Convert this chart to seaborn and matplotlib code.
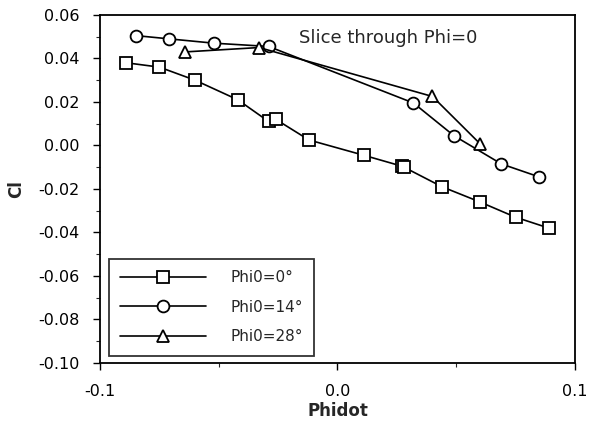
import matplotlib
matplotlib.use("Agg")
import matplotlib.pyplot as plt
import seaborn as sns
import pandas as pd
from matplotlib.ticker import MultipleLocator

sns.set_style("ticks")
plt.rcParams['font.family'] = ['DejaVu Sans']

# Data
phidot_0 = [-0.089, -0.075, -0.060, -0.042, -0.029, -0.026, -0.012, 0.011, 0.027, 0.028, 0.044, 0.060, 0.075, 0.089]
cl_0 = [0.038, 0.036, 0.030, 0.021, 0.011, 0.012, 0.0025, -0.0045, -0.0095, -0.010, -0.019, -0.026, -0.033, -0.038]

phidot_14 = [-0.085, -0.071, -0.052, -0.029, 0.032, 0.049, 0.069, 0.085]
cl_14 = [0.0505, 0.049, 0.047, 0.0455, 0.0195, 0.0045, -0.0085, -0.0145]

phidot_28 = [-0.064, -0.033, 0.040, 0.060]
cl_28 = [0.043, 0.045, 0.0225, 0.0008]

labels = ["Phi0=0°", "Phi0=14°", "Phi0=28°"]
annotation = "Slice through Phi=0"
xticks = [-0.1, 0.0, 0.1]
yticks = [-0.10, -0.08, -0.06, -0.04, -0.02, 0.00, 0.02, 0.04, 0.06]

fig = plt.figure(figsize=(5.9, 4.26), dpi=100)
ax = fig.add_axes([0.1695, 0.148, 0.805, 0.817])

series = [
    (phidot_0, cl_0, "s", 8.5, labels[0]),
    (phidot_14, cl_14, "o", 8.5, labels[1]),
    (phidot_28, cl_28, "^", 8, labels[2]),
]
for xs, ys, mk, ms, lab in series:
    df = pd.DataFrame({"Phidot": xs, "Cl": ys})
    sns.lineplot(data=df, x="Phidot", y="Cl", sort=False, ax=ax, color="black",
                 linewidth=1.2, marker=mk, markersize=ms, markerfacecolor="white",
                 markeredgecolor="black", markeredgewidth=1.3, label=lab)

ax.set_xlim(-0.1, 0.1)
ax.set_ylim(-0.10, 0.06)
ax.set_xticks(xticks)
ax.set_xticklabels(["-0.1", "0.0", "0.1"])
ax.set_yticks(yticks)
ax.set_yticklabels([f"{v:.2f}" for v in yticks])
ax.xaxis.set_minor_locator(MultipleLocator(0.05))
ax.yaxis.set_minor_locator(MultipleLocator(0.01))
ax.tick_params(axis="both", which="major", labelsize=11.5, length=5, width=1, color="black", labelcolor="black")
ax.tick_params(axis="x", which="major", pad=10)
ax.tick_params(axis="y", which="major", pad=10)
ax.tick_params(axis="both", which="minor", length=3, width=0.8)
for sp in ax.spines.values():
    sp.set_visible(True)
    sp.set_color("black")
    sp.set_linewidth(1.3)

ax.set_xlabel("Phidot", fontsize=12, fontweight="bold", labelpad=2)
ax.set_ylabel("Cl", fontsize=12, fontweight="bold", labelpad=9)

ax.text(-0.016, 0.0495, annotation, fontsize=13, va="center", ha="left")

leg = ax.legend(loc="lower left", bbox_to_anchor=(0.012, 0.012), handlelength=5.6,
                fontsize=11, frameon=True, fancybox=False, edgecolor="black",
                borderpad=0.75, labelspacing=0.95, handletextpad=1.6, numpoints=1,
                borderaxespad=0.2)
leg.get_frame().set_linewidth(1.3)

fig.savefig("out.png", dpi=100)
